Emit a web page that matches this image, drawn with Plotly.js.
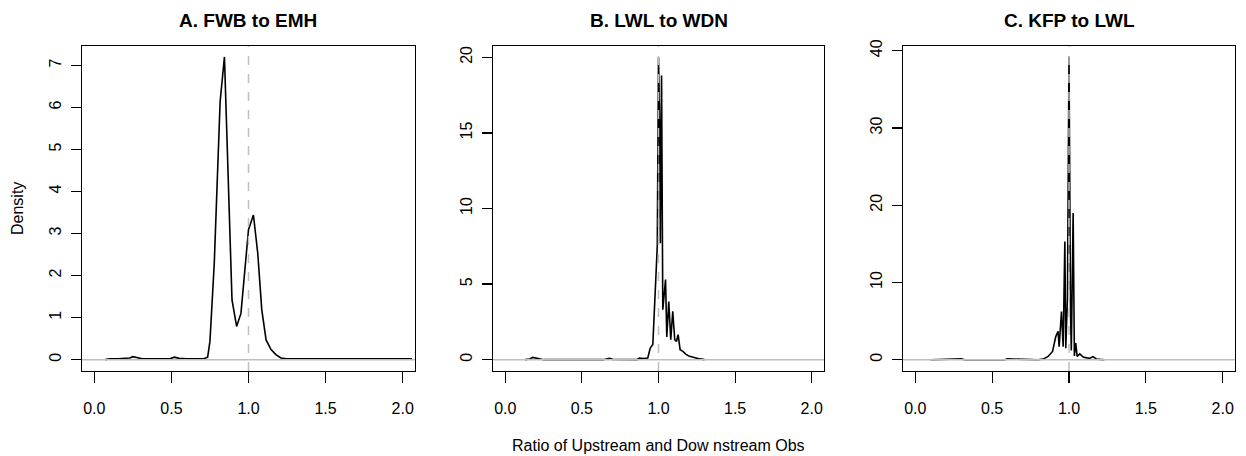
<!DOCTYPE html>
<html>
<head>
<meta charset="utf-8">
<script src="https://cdn.plot.ly/plotly-3.0.1.min.js"></script>
<style>html,body{margin:0;padding:0;background:#fff;}#chart{width:1246px;height:456px;}</style>
</head>
<body>
<div id="chart"></div>
<script>
// Panel titles
const panelTitles = ["A. FWB to EMH", "B. LWL to WDN", "C. KFP to LWL"];
const xTitle = "Ratio of Upstream and Dow nstream Obs";
const yTitle = "Density";

// X tick labels (shared)
const xTickVals = [0, 0.5, 1, 1.5, 2];
const xTickText = ["0.0", "0.5", "1.0", "1.5", "2.0"];

// Y tick values per panel
const yTicksA = [0, 1, 2, 3, 4, 5, 6, 7];
const yTicksB = [0, 5, 10, 15, 20];
const yTicksC = [0, 10, 20, 30, 40];

// Panel A density (FWB to EMH)
const ratioA = [0.07,0.10,0.15,0.20,0.23,0.25,0.28,0.31,0.40,0.49,0.52,0.55,0.60,0.71,0.735,0.75,0.778,0.816,0.844,0.87,0.893,0.923,0.951,1.0,1.032,1.06,1.086,1.114,1.146,1.178,1.21,1.243,1.5,1.8,2.06];
const densA = [0.0,0.02,0.02,0.03,0.04,0.07,0.05,0.02,0.02,0.02,0.06,0.03,0.02,0.02,0.06,0.44,2.3,6.14,7.2,3.9,1.42,0.79,1.1,3.09,3.44,2.53,1.19,0.47,0.24,0.12,0.04,0.02,0.02,0.02,0.02];

// Panel B density (LWL to WDN)
const ratioB = [0.13,0.16,0.18,0.20,0.22,0.25,0.64,0.66,0.68,0.70,0.86,0.876,0.90,0.93,0.946,0.963,0.974,0.985,0.992,1.0,1.007,1.012,1.02,1.028,1.046,1.054,1.067,1.08,1.093,1.106,1.117,1.128,1.141,1.159,1.18,1.202,1.225,1.246,1.27,1.30];
const densB = [0,0.04,0.15,0.1,0.05,0,0,0.07,0.09,0.02,0,0.11,0.08,0.11,0.77,1.0,3.3,5.3,7.5,20,16,7.7,18.8,3.3,5.3,1.5,3.85,1.32,3.2,1.32,1.2,1.65,0.66,0.55,0.35,0.22,0.15,0.11,0.05,0];

// Panel C density (KFP to LWL)
const ratioC = [0.10,0.17,0.20,0.25,0.30,0.32,0.58,0.60,0.63,0.66,0.80,0.832,0.864,0.893,0.914,0.929,0.936,0.951,0.962,0.973,0.979,0.99,1.0,1.01,1.015,1.027,1.035,1.044,1.053,1.07,1.092,1.115,1.135,1.156,1.178,1.2,1.23];
const densC = [0,0.05,0.12,0.1,0.12,0,0,0.12,0.1,0,0,0.09,0.43,1.08,3.0,3.7,1.7,6.25,1.7,15.3,1.5,8,39.2,6,1.2,19,0.5,2.15,0.43,0.77,0.35,0.25,0.2,0.4,0.1,0.05,0];

const FONT = "Liberation Sans, Arial, Helvetica, sans-serif";
const W = 1246, H = 456;
const boxes = [[82, 415], [493, 824], [903, 1235]];
const yTop = 46, yBot = 371;
const yDom = [1 - yBot / H, 1 - yTop / H];

const series = [[ratioA, densA], [ratioB, densB], [ratioC, densC]];
const yRanges = [[-0.27, 7.46], [-0.75, 20.75], [-1.45, 40.6]];
const yTicks = [yTicksA, yTicksB, yTicksC];

const traces = [];
const layout = {
  width: W, height: H,
  margin: {l: 0, r: 0, t: 0, b: 0},
  paper_bgcolor: "#fff", plot_bgcolor: "#fff",
  showlegend: false,
  font: {family: FONT, size: 16, color: "#000"},
  shapes: [], annotations: []
};

series.forEach((s, i) => {
  const n = i === 0 ? "" : String(i + 1);
  traces.push({
    x: s[0], y: s[1], type: "scatter", mode: "lines",
    line: {color: "#000", width: 1.6},
    xaxis: "x" + n, yaxis: "y" + n, hoverinfo: "skip"
  });
  layout["xaxis" + n] = {
    domain: [boxes[i][0] / W, boxes[i][1] / W],
    range: [-0.08, 2.08], anchor: "y" + n,
    tickvals: xTickVals, ticktext: xTickText,
    ticks: "outside", ticklen: 11, tickwidth: 1.2, tickcolor: "#000",
    showline: true, mirror: true, linecolor: "#000", linewidth: 1.3,
    showgrid: false, zeroline: false, ticklabelstandoff: 11,
    tickfont: {family: FONT, size: 16, color: "#000"}
  };
  layout["yaxis" + n] = {
    domain: yDom, range: yRanges[i], anchor: "x" + n,
    tickvals: yTicks[i], tickangle: -90,
    ticks: "outside", ticklen: 10, tickwidth: 1.2, tickcolor: "#000",
    showline: true, mirror: true, linecolor: "#000", linewidth: 1.3,
    showgrid: false, zeroline: false, ticklabelstandoff: 3,
    tickfont: {family: FONT, size: 16, color: "#000"}
  };
  layout.shapes.push({
    type: "line", xref: "x" + n + " domain", x0: 0, x1: 1,
    yref: "y" + n, y0: 0, y1: 0, layer: "above",
    line: {color: "#bebebe", width: 1.5}
  });
  layout.shapes.push({
    type: "line", xref: "x" + n, x0: 1, x1: 1,
    yref: "y" + n + " domain", y0: 0, y1: 1, layer: "above",
    line: {color: "#bebebe", width: 1.5, dash: "dash"}
  });
  layout.annotations.push({
    text: "<b>" + panelTitles[i] + "</b>", showarrow: false,
    xref: "paper", yref: "paper",
    x: (boxes[i][0] + boxes[i][1]) / 2 / W, y: 1 - 21 / H,
    xanchor: "center", yanchor: "middle",
    font: {family: FONT, size: 19, color: "#000"}
  });
});

layout.annotations.push({
  text: xTitle, showarrow: false, xref: "paper", yref: "paper",
  x: 658 / W, y: 1 - 445 / H, xanchor: "center", yanchor: "middle",
  font: {family: FONT, size: 16, color: "#000"}
});
layout.annotations.push({
  text: yTitle, showarrow: false, xref: "paper", yref: "paper",
  x: 18 / W, y: 1 - 209 / H, xanchor: "center", yanchor: "middle",
  textangle: -90, font: {family: FONT, size: 16, color: "#000"}
});

Plotly.newPlot("chart", traces, layout, {displayModeBar: false, staticPlot: true});
</script>
</body>
</html>
